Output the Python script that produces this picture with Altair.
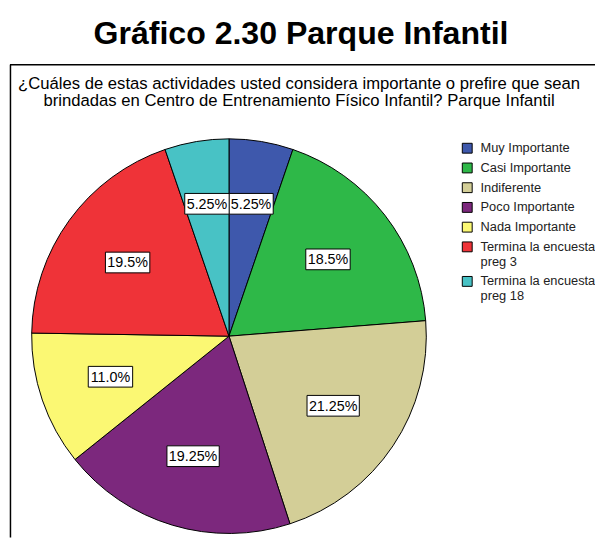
import altair as alt
import pandas as pd

TITLE = "Gráfico 2.30 Parque Infantil"
SUBTITLE = [
    "¿Cuáles de estas actividades usted considera importante o prefire que sean",
    "brindadas en Centro de Entrenamiento Físico Infantil? Parque Infantil",
]
categories = [
    "Muy Importante",
    "Casi Importante",
    "Indiferente",
    "Poco Importante",
    "Nada Importante",
    "Termina la encuesta preg 3",
    "Termina la encuesta preg 18",
]
values = [5.25, 18.5, 21.25, 19.25, 11.0, 19.5, 5.25]
pct_labels = ["5.25%", "18.5%", "21.25%", "19.25%", "11.0%", "19.5%", "5.25%"]
colors = ["#3E58AC", "#2EB848", "#D3CE97", "#7C287D", "#FBF873", "#EF3338", "#48C2C5"]

df = pd.DataFrame({
    "idx": list(range(len(categories))),
    "cat": categories,
    "value": values,
    "label": pct_labels,
})

FONT = "Liberation Sans"
CX, CY, R = 224, 329, 200
W, H = 595, 533

color = alt.Color(
    "cat:N",
    scale=alt.Scale(domain=categories, range=colors),
    sort=None,
    legend=alt.Legend(
        orient="none", legendX=459, legendY=132, title=None,
        symbolType="square", symbolSize=100, symbolStrokeColor="black",
        symbolStrokeWidth=1, symbolOpacity=1,
        labelFont=FONT, labelFontSize=13, labelColor="#222222",
        labelOffset=7, rowPadding=5, padding=0, labelLimit=300,
        labelExpr="split(replace(datum.label, ' preg', '|preg'), '|')",
    ),
)

pie = alt.Chart(df).mark_arc(radius=R, stroke="black", strokeWidth=1).encode(
    theta=alt.Theta("value:Q", stack=True),
    color=color,
    order=alt.Order("idx:Q"),
    x=alt.value(CX),
    y=alt.value(CY),
)

pos = alt.Chart(df).transform_joinaggregate(
    total="sum(value)"
).transform_window(
    cum="sum(value)", sort=[alt.SortField("idx")], frame=[None, 0]
).transform_calculate(
    ang="(datum.cum - datum.value / 2) / datum.total * 2 * PI",
    r="datum.value < 6 ? 136 : 127",
).transform_calculate(
    cx=f"{CX} + datum.r * sin(datum.ang)",
    cy=f"{CY} - datum.r * cos(datum.ang)",
    w="length(datum.label) * 8 + 5",
).transform_calculate(
    x1="datum.cx - datum.w / 2",
    x2="datum.cx + datum.w / 2",
    y1="datum.cy - 10.5",
    y2="datum.cy + 10.5",
)

boxes = pos.mark_rect(fill="white", stroke="black", strokeWidth=1).encode(
    x=alt.X("x1:Q", scale=None), x2="x2:Q",
    y=alt.Y("y1:Q", scale=None), y2="y2:Q",
)
texts = pos.mark_text(font=FONT, fontSize=14.5, color="black", baseline="middle", align="center", dy=1).encode(
    x=alt.X("cx:Q", scale=None), y=alt.Y("cy:Q", scale=None), text="label:N",
)

one = pd.DataFrame({"t": [TITLE], "s": ["\n".join(SUBTITLE)]})
title = alt.Chart(one).mark_text(
    font=FONT, fontSize=32.5, fontWeight="bold", align="center", baseline="alphabetic", color="black"
).encode(x=alt.value(297), y=alt.value(33), text="t:N")
subtitle = alt.Chart(one).mark_text(
    font=FONT, fontSize=16.9, align="center", baseline="alphabetic", color="black",
    lineBreak="\n", lineHeight=17.5,
).encode(x=alt.value(295), y=alt.value(78.5), text="s:N")

frame_top = alt.Chart(one).mark_rule(color="black", strokeWidth=1.5).encode(
    x=alt.value(2), x2=alt.value(W), y=alt.value(54)
)
frame_left = alt.Chart(one).mark_rule(color="black", strokeWidth=1.5).encode(
    x=alt.value(2.5), y=alt.value(54), y2=alt.value(H)
)

chart = alt.layer(pie, boxes, texts, title, subtitle, frame_top, frame_left).properties(
    width=W, height=H, padding=0, autosize=alt.AutoSizeParams(type="none"),
    background="white",
).configure_view(stroke=None)

chart.save("out.html", embed_options={"renderer": "svg", "actions": False})
